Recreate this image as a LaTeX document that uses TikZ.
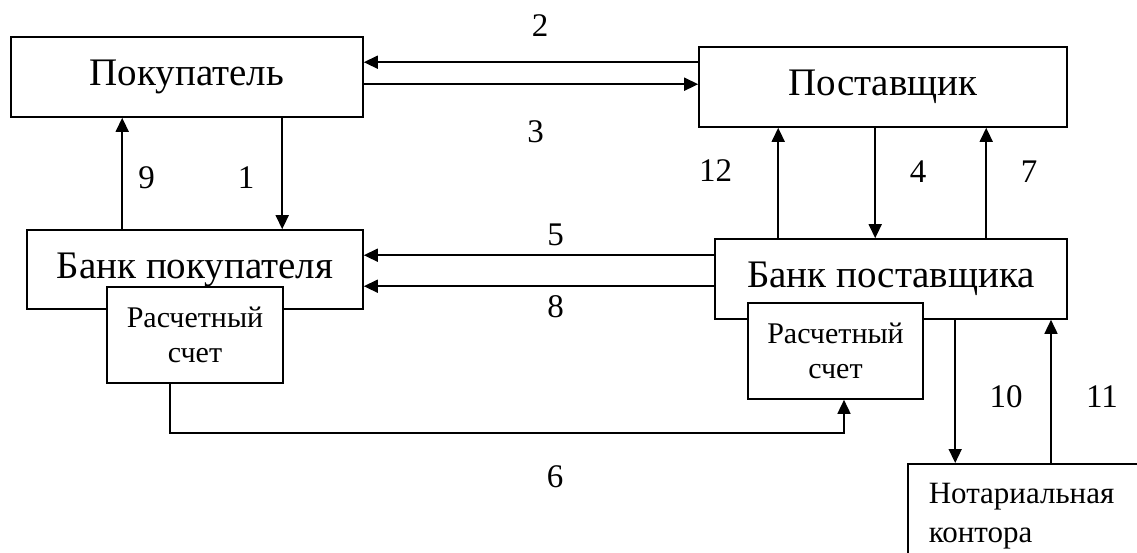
\documentclass[tikz,border=0pt]{standalone}
\usepackage{fontspec}
\setmainfont{Liberation Serif}
\usetikzlibrary{arrows.meta, positioning}

\begin{document}
\begin{tikzpicture}[
    x=1pt, y=-1pt,
    box/.style={
        rectangle, draw, line width=1.6pt, inner sep=0pt,
        align=center, font=\fontsize{39}{44}\selectfont
    },
    acc/.style={box, fill=white, minimum width=176pt, minimum height=96pt,
        font=\fontsize{30}{35}\selectfont},
    arr/.style={-{Triangle[length=14pt, width=13pt]}, line width=1.6pt},
    lab/.style={font=\fontsize{33}{38}\selectfont, inner sep=0pt}
]
\useasboundingbox (0,0) rectangle (1137,552);

% --- Nodes ---
\node[box, minimum width=352pt, minimum height=80pt] (buyer)    at (187,77)    {Покупатель};
\node[box, minimum width=368pt, minimum height=80pt] (supplier) at (883,87)    {Поставщик};
\node[box, minimum width=336pt, minimum height=79pt] (bbank)    at (195,269.5) {Банк покупателя};
\node[acc] (bacc) at (195,335) {Расчетный\\счет};
\node[box, minimum width=352pt, minimum height=80pt] (sbank)    at (891,279)   {Банк поставщика};
\node[acc, minimum width=175pt] (sacc) at (835.5,351) {Расчетный\\счет};
\node[box, anchor=north west, align=left, text width=200pt,
    inner xsep=21pt, inner ysep=19.5pt, font=\fontsize{31}{39}\selectfont] (notary)
    at (907,463) {Нотариальная\\контора};

% 2, 3: Поставщик <-> Покупатель
\draw[arr] ([yshift=-16pt]supplier.north west) coordinate (a2) --
    node[lab, xshift=9pt, yshift=36.5pt] {2} (a2 -| buyer.east);
\draw[arr] ([yshift=-48pt]buyer.north east) coordinate (a3) --
    node[lab, xshift=4.5pt, yshift=-47.5pt] {3} (a3 -| supplier.west);

% 9, 1: Покупатель <-> Банк покупателя
\draw[arr] ([xshift=96pt]bbank.north west) coordinate (a9) --
    node[lab, xshift=24.5pt, yshift=-4pt] {9} (a9 |- buyer.south);
\draw[arr] ([xshift=272pt]buyer.south west) coordinate (a1) --
    node[lab, xshift=-36pt, yshift=-4pt] {1} (a1 |- bbank.north);

% 12, 4, 7: Поставщик <-> Банк поставщика
\draw[arr] ([xshift=64pt]sbank.north west) coordinate (a12) --
    node[lab, xshift=-62.5pt, yshift=12pt] {12} (a12 |- supplier.south);
\draw[arr] ([xshift=177pt]supplier.south west) coordinate (a4) --
    node[lab, xshift=43pt, yshift=11pt] {4} (a4 |- sbank.north);
\draw[arr] ([xshift=272pt]sbank.north west) coordinate (a7) --
    node[lab, xshift=43pt, yshift=11pt] {7} (a7 |- supplier.south);

% 5, 8: Банк поставщика -> Банк покупателя
\draw[arr] ([yshift=-17pt]sbank.north west) coordinate (a5) --
    node[lab, xshift=16.5pt, yshift=20pt] {5} (a5 -| bbank.east);
\draw[arr] ([yshift=-48pt]sbank.north west) coordinate (a8) --
    node[lab, xshift=16.5pt, yshift=-20pt] {8} (a8 -| bbank.east);

% 6: счет -> счет
\draw[arr] ([xshift=64pt]bacc.south west) -- ++(0,49) -|
    node[lab, pos=0.25, xshift=48pt, yshift=-44pt] {6} ([xshift=8.5pt]sacc.south);

% 10, 11: Банк поставщика <-> Нотариальная контора
\draw[arr] ([xshift=241pt]sbank.south west) coordinate (a10) --
    node[lab, xshift=51pt, yshift=-5pt] {10} (a10 |- notary.north);
\draw[arr] ([xshift=144pt]notary.north west) coordinate (a11) --
    node[lab, xshift=51pt, yshift=-5pt] {11} (a11 |- sbank.south);

\end{tikzpicture}
\end{document}
